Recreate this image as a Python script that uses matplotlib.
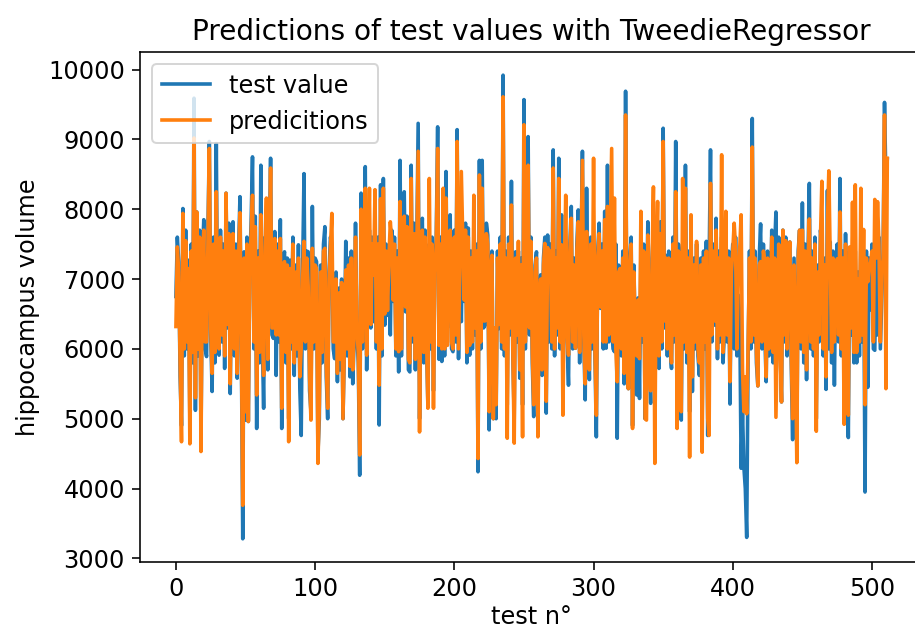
import matplotlib
matplotlib.use('Agg')
import matplotlib.pyplot as plt
import numpy as np

test_values = [
    6750, 7600, 7250, 5600, 4900, 8010, 5900, 7700, 6000, 7270, 5000, 7500, 5800, 9590, 5120, 7960,
    5900, 7700, 4700, 7300, 7850, 6000, 5890, 7700, 8970, 6200, 5390, 7600, 5800, 8940, 6100, 5910,
    7700, 6100, 7500, 5720, 8230, 6300, 7800, 5360, 7200, 7820, 5900, 7500, 5580, 7400, 8180, 6000,
    3280, 7390, 4980, 7600, 4960, 7200, 7800, 8750, 6000, 7900, 4860, 7400, 5800, 8630, 6200, 5150,
    7600, 7540, 5700, 7400, 8730, 6200, 6150, 7680, 5620, 7500, 6100, 7850, 4860, 7300, 7390, 5800,
    7300, 5000, 7270, 6000, 7600, 5620, 7200, 5900, 7490, 5430, 4760, 7100, 8510, 6000, 7400, 7390,
    5400, 5100, 8040, 6000, 7300, 7250, 4500, 5000, 7200, 5800, 7500, 7750, 5600, 5000, 7100, 7600,
    7500, 6000, 5860, 7100, 5530, 6870, 5700, 7000, 5000, 6000, 7540, 5900, 7300, 5600, 7400, 5500,
    6100, 7800, 6200, 5800, 4190, 8230, 6000, 7400, 8610, 5700, 7100, 7700, 6300, 7600, 6390, 7600,
    6000, 7600, 4910, 8350, 5900, 8440, 6340, 7500, 6480, 7400, 6200, 7700, 6680, 7600, 5900, 7400,
    5670, 8700, 5900, 7800, 8250, 6530, 7900, 5700, 5670, 8630, 6100, 7800, 5700, 7500, 9230, 5000,
    7400, 7870, 5800, 7700, 6100, 5190, 7500, 6000, 7600, 5400, 7200, 7600, 9180, 5850, 7600, 5820,
    7400, 5900, 8540, 6300, 7600, 7920, 6000, 5960, 7700, 6100, 9140, 5860, 7400, 6390, 7700, 6680,
    7800, 5800, 7730, 5910, 7400, 6000, 7600, 6200, 7500, 4240, 8700, 6000, 8700, 6300, 6340, 7800,
    7630, 4840, 7200, 7400, 5000, 6200, 5000, 7400, 6290, 7600, 6000, 9920, 5900, 7400, 5200, 7600,
    6200, 8400, 5900, 5000, 7390, 6100, 7400, 5580, 7300, 5200, 9570, 6000, 7400, 9040, 6200, 7600,
    5800, 5030, 7200, 7390, 5100, 6770, 7060, 5620, 7300, 7600, 5080, 7630, 6100, 7500, 6000, 8850,
    5900, 7400, 6200, 8730, 6000, 7920, 5800, 7100, 7400, 6100, 5480, 7500, 8040, 6000, 7300, 6010,
    7500, 7990, 5800, 7400, 8830, 6100, 5270, 8300, 6300, 5560, 7600, 6000, 7500, 5900, 4740, 7400,
    7800, 6580, 7500, 6000, 7970, 6010, 8630, 6100, 7600, 6300, 6000, 5960, 7500, 4720, 7200, 7150,
    5900, 7400, 5500, 9690, 6000, 5430, 7300, 7600, 4900, 7200, 6000, 5340, 6730, 5290, 7400, 6100,
    7500, 5000, 6600, 7820, 5900, 5220, 7300, 7700, 5800, 7400, 6100, 5720, 7820, 6000, 9160, 6300,
    7340, 5900, 7400, 6000, 5720, 7600, 6100, 8970, 6000, 7500, 7340, 4980, 7400, 6000, 8630, 5800,
    7400, 5100, 7300, 5390, 7300, 6000, 7500, 5900, 5620, 7300, 5000, 7400, 6000, 7540, 4760, 7200,
    8850, 6100, 7500, 6340, 7870, 5860, 7400, 6100, 7600, 5800, 6250, 7600, 6100, 7400, 5210, 7200,
    7500, 6000, 7600, 5900, 6770, 6480, 4290, 5100, 4300, 4000, 3300, 5900, 7400, 6000, 9300, 6100,
    7400, 5800, 5470, 7300, 7790, 6000, 7500, 6200, 5530, 7400, 5900, 6440, 7700, 5800, 7400, 7960,
    6200, 7600, 6000, 5240, 7700, 6100, 7600, 5900, 7400, 7530, 5800, 4700, 7300, 6000, 4600, 7400,
    7700, 6000, 8090, 5800, 7500, 5560, 7300, 8370, 6000, 7400, 5900, 7600, 5000, 7200, 6100, 7700,
    7500, 5900, 7300, 5420, 8270, 6000, 7530, 5800, 7400, 5480, 7200, 7500, 6100, 8440, 5900, 7400,
    5620, 7650, 6000, 4730, 7400, 6200, 6860, 5800, 7400, 5800, 7100, 5900, 7500, 6100, 7400, 3950,
    7400, 5450, 7300, 6560, 7500, 6000, 5980, 7400, 6200, 7600, 6000, 6690, 7400, 9530, 8380, 8720,
]

# TweedieRegressor predictions
predictions = [
    6320, 7460, 7100, 5800, 4670, 7940, 6000, 7550, 6100, 7150, 4640, 7400, 5950, 9020, 5300, 7960,
    6000, 7600, 4530, 7250, 7700, 6100, 6100, 7550, 8870, 6300, 5650, 7500, 5950, 8250, 6200, 6000,
    7600, 6200, 7400, 5900, 8230, 6350, 7650, 5500, 7150, 7650, 6000, 7400, 5650, 7300, 7950, 6100,
    3760, 7300, 5100, 7500, 4960, 7150, 7650, 8200, 6100, 7750, 5340, 7300, 5950, 7920, 6300, 5620,
    7450, 8160, 5850, 7300, 8590, 6300, 6300, 7580, 6200, 7400, 6200, 7580, 5150, 7200, 7250, 5950,
    7200, 4670, 7150, 6100, 7500, 5800, 7100, 6000, 7300, 5600, 6010, 7000, 7540, 6100, 7300, 6900,
    5600, 4980, 7440, 6100, 7200, 7150, 4360, 5200, 7100, 5950, 7400, 7440, 5750, 5150, 7000, 7450,
    7940, 6100, 6100, 7000, 5650, 6800, 5850, 6950, 5000, 6100, 7130, 6000, 7200, 5750, 7300, 5700,
    6200, 7600, 6300, 5950, 4480, 8000, 6100, 7300, 8300, 5910, 7000, 8300, 6350, 7500, 7060, 8280,
    6100, 7500, 5480, 8150, 6000, 8300, 6500, 7400, 6550, 7300, 7820, 7550, 6700, 7500, 6000, 7300,
    5960, 8110, 6000, 7700, 7900, 6600, 7750, 5850, 5800, 8440, 6200, 7650, 5850, 7400, 8830, 4810,
    7300, 7700, 5950, 7600, 6200, 5150, 8440, 6100, 7500, 5150, 7100, 7500, 8870, 6050, 7500, 6000,
    8300, 6000, 8160, 6050, 7500, 7700, 6100, 6000, 7600, 6200, 8970, 6000, 7300, 8540, 7600, 6700,
    7700, 5950, 7600, 6050, 7300, 6100, 8200, 6300, 7400, 4430, 8490, 6100, 8300, 6400, 6400, 7650,
    7500, 5100, 7100, 7340, 5000, 6300, 5200, 7300, 6350, 7500, 6100, 9610, 6000, 7300, 4720, 7500,
    6300, 8060, 6000, 4650, 7300, 6200, 7540, 5700, 7200, 4740, 9210, 6100, 7300, 8630, 6300, 7540,
    5950, 5200, 7100, 7300, 4740, 6750, 7000, 5700, 7200, 7510, 5250, 7450, 7300, 7400, 6100, 8590,
    6000, 7300, 6300, 8440, 6100, 7490, 5050, 7000, 8200, 6200, 5910, 7400, 7870, 6100, 7200, 6010,
    7400, 7820, 5950, 7300, 8700, 6200, 5500, 7680, 6350, 5700, 7500, 6100, 8730, 6000, 5050, 7300,
    7650, 6600, 7400, 6100, 7850, 6100, 8040, 6200, 7500, 8870, 6100, 8160, 6000, 5530, 7100, 7150,
    6000, 7300, 5650, 9350, 6100, 5430, 7200, 7500, 4860, 7100, 6100, 5900, 6700, 5860, 7970, 6200,
    7400, 5000, 4980, 7630, 6000, 5400, 7200, 8320, 4360, 7300, 8110, 5900, 7650, 6100, 8970, 6400,
    7300, 6000, 7300, 6100, 5800, 7500, 6200, 8250, 4860, 7400, 7250, 5100, 8440, 6100, 8300, 5950,
    7300, 4450, 7920, 5600, 7200, 6100, 7540, 6000, 5800, 7200, 4520, 7300, 6100, 7400, 5000, 4760,
    8370, 6200, 7400, 6400, 7700, 6000, 7300, 6200, 8780, 5950, 6350, 7970, 6200, 7300, 5530, 7100,
    7400, 7800, 7450, 6000, 7060, 7440, 7920, 5700, 5100, 5600, 5070, 6000, 7300, 6100, 8890, 6200,
    7300, 5950, 5470, 7200, 7250, 6100, 7400, 7250, 5600, 7300, 6000, 6500, 7600, 5950, 7300, 5020,
    6300, 7500, 6100, 5240, 7700, 6200, 7550, 6000, 7300, 7530, 5950, 5000, 7200, 6100, 4370, 7300,
    7700, 6100, 7700, 5950, 7400, 5700, 7200, 7860, 6100, 7300, 6000, 7500, 4820, 7100, 6200, 7600,
    8400, 6000, 7200, 5600, 7800, 8550, 7300, 5950, 7300, 6100, 7100, 7290, 6200, 7960, 6000, 7300,
    4920, 7500, 6100, 5050, 7460, 6300, 8100, 5950, 8350, 5950, 7000, 6100, 8300, 6200, 7710, 5200,
    7300, 6960, 7200, 7230, 7400, 6100, 8140, 7300, 8108, 7500, 6100, 7100, 7300, 9350, 5430, 8730,
]

plt.rcParams.update({
    'font.size': 12,
    'axes.titlesize': 14,
    'axes.labelsize': 12,
    'xtick.labelsize': 12,
    'ytick.labelsize': 12,
    'legend.fontsize': 12,
    'lines.linewidth': 1.8,
    'xtick.major.size': 4.2,
    'ytick.major.size': 4.2,
})

fig = plt.figure(figsize=(915 / 144, 631 / 144), dpi=144)
ax = fig.add_axes([0.1534, 0.1094, 0.8552, 0.8082])

ax.plot(np.arange(len(test_values)), test_values, label='test value')
ax.plot(np.arange(len(predictions)), predictions, label='predicitions')
ax.set_title('Predictions of test values with TweedieRegressor')
ax.set_xlabel('test n°', labelpad=2)
ax.set_ylabel('hippocampus volume')
ax.legend(loc='upper left')

fig.savefig('out.png', dpi=144)
